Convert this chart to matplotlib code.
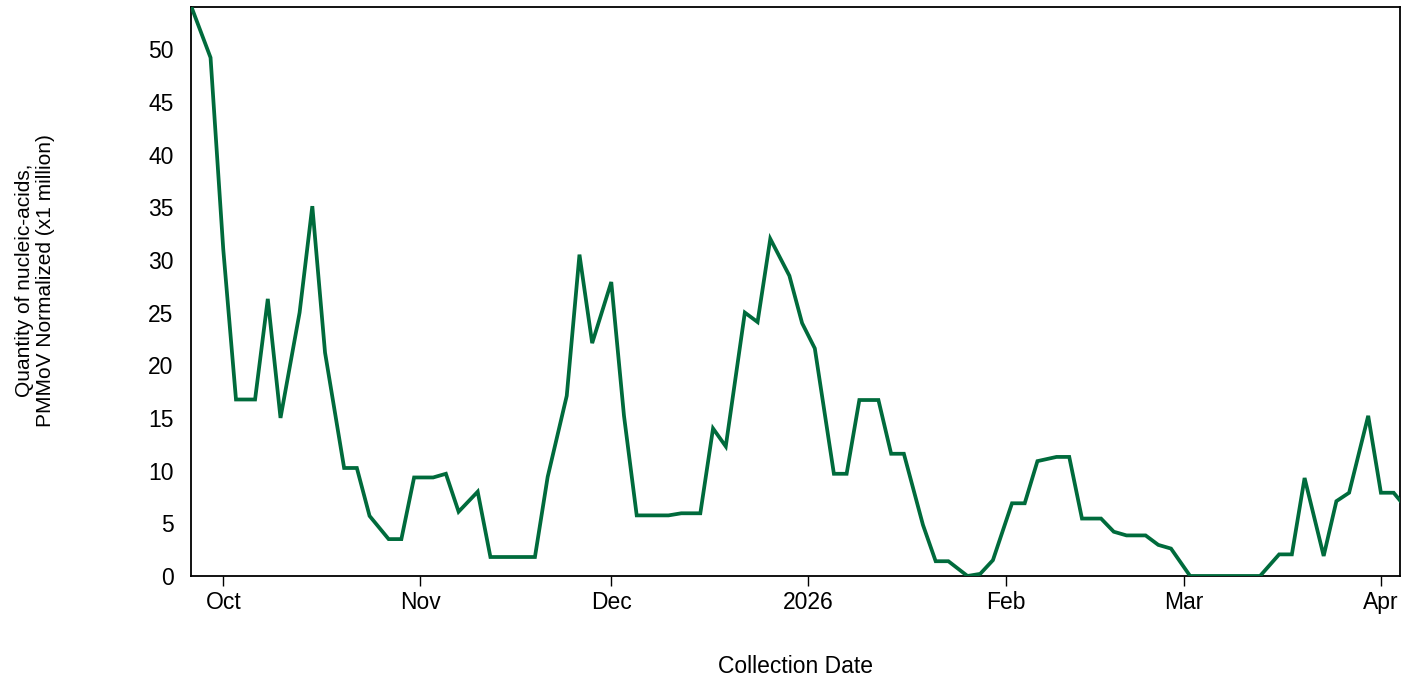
import matplotlib
matplotlib.use("Agg")
from matplotlib import pyplot as plt
import matplotlib.dates as mdates
from matplotlib.ticker import FuncFormatter
import pandas as pd

# collection dates (Mon / Wed / Fri sampling) and normalized quantities (x1 million)
dates = [
    "2025-09-26", "2025-09-29", "2025-10-01", "2025-10-03", "2025-10-06", "2025-10-08",
    "2025-10-10", "2025-10-13", "2025-10-15", "2025-10-17", "2025-10-20", "2025-10-22",
    "2025-10-24", "2025-10-27", "2025-10-29", "2025-10-31", "2025-11-03", "2025-11-05",
    "2025-11-07", "2025-11-10", "2025-11-12", "2025-11-14", "2025-11-17", "2025-11-19",
    "2025-11-21", "2025-11-24", "2025-11-26", "2025-11-28", "2025-12-01", "2025-12-03",
    "2025-12-05", "2025-12-08", "2025-12-10", "2025-12-12", "2025-12-15", "2025-12-17",
    "2025-12-19", "2025-12-22", "2025-12-24", "2025-12-26", "2025-12-29", "2025-12-31",
    "2026-01-02", "2026-01-05", "2026-01-07", "2026-01-09", "2026-01-12", "2026-01-14",
    "2026-01-16", "2026-01-19", "2026-01-21", "2026-01-23", "2026-01-26", "2026-01-28",
    "2026-01-30", "2026-02-02", "2026-02-04", "2026-02-06", "2026-02-09", "2026-02-11",
    "2026-02-13", "2026-02-16", "2026-02-18", "2026-02-20", "2026-02-23", "2026-02-25",
    "2026-02-27", "2026-03-02", "2026-03-04", "2026-03-06", "2026-03-09", "2026-03-11",
    "2026-03-13", "2026-03-16", "2026-03-18", "2026-03-20", "2026-03-23", "2026-03-25",
    "2026-03-27", "2026-03-30", "2026-04-01", "2026-04-03", "2026-04-06",
]
values = [
    54.0, 49.2, 31.0, 16.75, 16.75, 26.3,
    15.0, 25.0, 35.1, 21.2, 10.25, 10.25,
    5.7, 3.5, 3.5, 9.35, 9.35, 9.7,
    6.1, 8.0, 1.8, 1.8, 1.8, 1.8,
    9.4, 17.1, 30.5, 22.1, 27.9, 15.2,
    5.75, 5.75, 5.75, 5.95, 5.95, 14.0,
    12.3, 25.0, 24.1, 32.0, 28.5, 24.0,
    21.6, 9.7, 9.7, 16.7, 16.7, 11.6,
    11.6, 4.85, 1.4, 1.4, 0.0, 0.2,
    1.5, 6.9, 6.9, 10.9, 11.3, 11.3,
    5.45, 5.45, 4.2, 3.85, 3.85, 2.95,
    2.6, 0.0, 0.0, 0.0, 0.0, 0.0,
    0.0, 2.05, 2.05, 9.3, 1.9, 7.1,
    7.9, 15.2, 7.9, 7.9, 5.7,
]

line_color = "#006B3C"

plt.rcParams["font.family"] = ["Liberation Sans", "DejaVu Sans"]

x = pd.to_datetime(dates)

fig = plt.figure(figsize=(14.13, 6.75), dpi=100)
ax = fig.add_axes([0.1355, 0.1467, 0.8553, 0.8429])

ax.plot(x, values, color=line_color, linewidth=2.7, solid_joinstyle="miter", zorder=3)

ax.set_xlim(pd.Timestamp("2025-09-26"), pd.Timestamp("2026-04-04"))
ax.set_ylim(0, 54)
ax.set_yticks(range(0, 55, 5))

ax.xaxis.set_major_locator(mdates.MonthLocator())


def month_label(v, pos):
    d = mdates.num2date(v)
    return str(d.year) if d.month == 1 else d.strftime("%b")


ax.xaxis.set_major_formatter(FuncFormatter(month_label))

ax.tick_params(axis="x", length=7, width=1, pad=4, labelsize=16.5, colors="black")
ax.tick_params(axis="y", length=0, pad=13, labelsize=16.5, colors="black")

for s in ax.spines.values():
    s.set_linewidth(1.3)
    s.set_color("black")

ax.set_xlabel("Collection Date", fontsize=16.5, labelpad=29)
ax.set_ylabel("Quantity of nucleic-acids,\nPMMoV Normalized (x1 million)", fontsize=15,
              linespacing=1.15)
ax.yaxis.set_label_coords(-0.113, 0.52)

fig.savefig("out.png", dpi=100)
